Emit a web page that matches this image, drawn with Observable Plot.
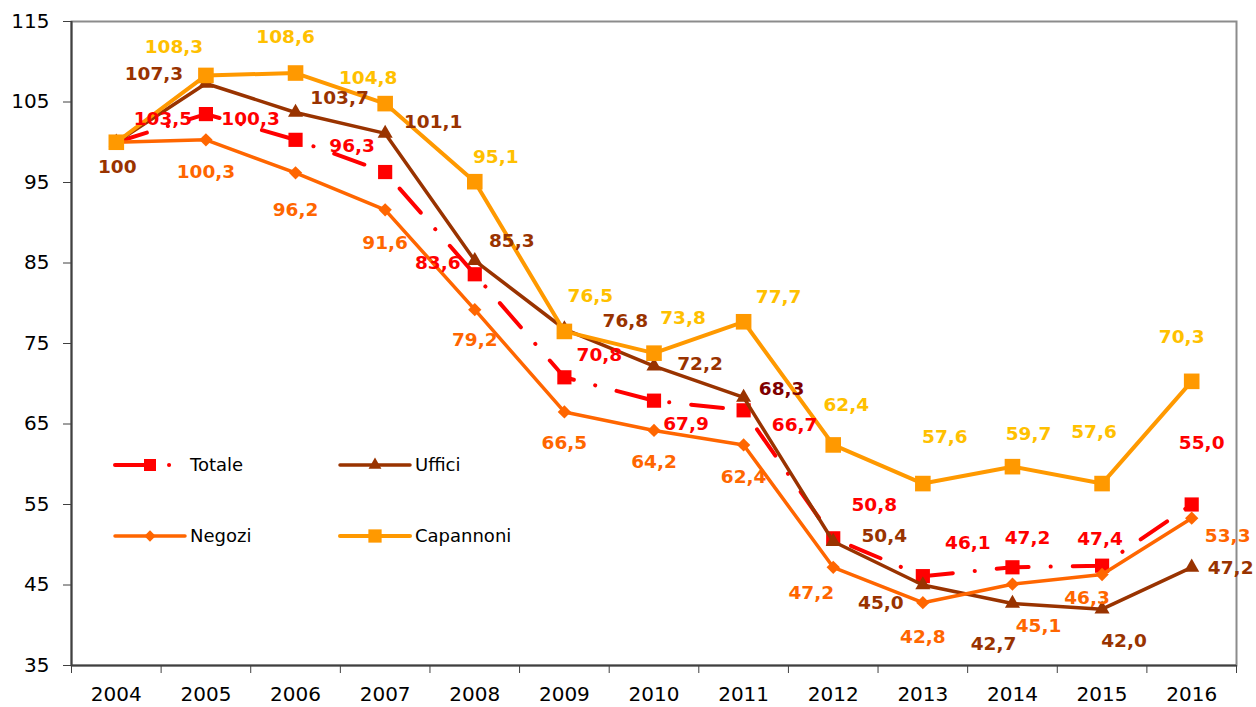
<!DOCTYPE html>
<html><head><meta charset="utf-8">
<script src="https://cdn.jsdelivr.net/npm/d3@7"></script>
<script src="https://cdn.jsdelivr.net/npm/@observablehq/plot@0.6"></script>
<style>
body{margin:0;background:#fff;}
#wrap{position:relative;width:1256px;height:707px;}
#legend{position:absolute;left:0;top:0;pointer-events:none;}
</style></head><body><div id="wrap"></div>
<script>
// ---- data ----
const years = [2004,2005,2006,2007,2008,2009,2010,2011,2012,2013,2014,2015,2016];
const totale    = [100,103.5,100.3,96.3,83.6,70.8,67.9,66.7,50.8,46.1,47.2,47.4,55.0];
const uffici    = [100,107.3,103.7,101.1,85.3,76.8,72.2,68.3,50.4,45.0,42.7,42.0,47.2];
const negozi    = [100,100.3,96.2,91.6,79.2,66.5,64.2,62.4,47.2,42.8,45.1,46.3,53.3];
const capannoni = [100,108.3,108.6,104.8,95.1,76.5,73.8,77.7,62.4,57.6,59.7,57.6,70.3];
const yTicks = [35,45,55,65,75,85,95,105,115];
const seriesNames = ["Totale","Uffici","Negozi","Capannoni"];
const seriesValues = [totale, uffici, negozi, capannoni];

// ---- styles ----
const lineColors  = {Totale:"#FF0000", Uffici:"#993300", Negozi:"#FF6600", Capannoni:"#FF9900"};
const labelColors = {Totale:"#FF0000", Uffici:"#993300", Negozi:"#FF6600", Capannoni:"#FFC000"};
const symbols = {Totale:"square", Uffici:"triangle", Negozi:"diamond2", Capannoni:"square"};
const radii   = {Totale:8, Uffici:5.6, Negozi:6, Capannoni:8.8};
const widths  = {Totale:4, Uffici:3.5, Negozi:3.5, Capannoni:4};
const dashes  = {Totale:"32,22,0.1,22", Uffici:null, Negozi:null, Capannoni:null};
// label offsets (pixels) from each point; null = no label
const labelOffsets = {
  Totale:    [null,[-43,5],[-45,-21],[-33,-26],[-37,-11],[35,-22],[32,23],[51,15],[41,-33],[45,-33],[15,-29],[-2,-27],[10,-61]],
  Uffici:    [[1,25],[-52,-9],[44,-14],[48,-11],[37,-20],[61,-8],[46,-2],[38,-8],[51,-5],[-42,18],[-19,41],[22,32],[39,1]],
  Negozi:    [null,[0,32],[0,37],[0,33],[0,30],[0,31],[0,32],[0,32],[-22,26],[0,34],[26,42],[-15,24],[36,18]],
  Capannoni: [null,[-32,-28],[-10,-36],[-17,-26],[21,-25],[26,-35],[29,-35],[35,-25],[13,-40],[22,-46],[16,-33],[-8,-51],[-10,-44]]
};
const labelColorOverride = {"Uffici-2011":"#800000"};

const fmt = v => v === 100 ? "100" : v.toFixed(1).replace(".", ",");
const font = "DejaVu Sans";

const marks = [];
marks.push(Plot.frame({stroke:"#8c8c8c", strokeWidth:2}));

seriesNames.forEach((name, si) => {
  const rows = years.map((yr, i) => ({year: yr, value: seriesValues[si][i], series: name}));
  marks.push(Plot.line(rows, {x:"year", y:"value", stroke: lineColors[name], strokeWidth: widths[name],
    strokeDasharray: dashes[name] || undefined, strokeLinecap: dashes[name] ? "round" : "butt", strokeLinejoin:"round"}));
  marks.push(Plot.dot(rows, {x:"year", y:"value", symbol: symbols[name], r: radii[name], fill: lineColors[name], stroke:"none"}));
});

seriesNames.forEach((name, si) => {
  years.forEach((yr, i) => {
    const off = labelOffsets[name][i];
    if (!off) return;
    const v = seriesValues[si][i];
    marks.push(Plot.text([{year: yr, value: v}], {x:"year", y:"value", text: d => fmt(d.value),
      dx: off[0], dy: off[1], fill: labelColorOverride[name + "-" + yr] || labelColors[name],
      fontWeight:"bold", fontSize:18.5, fontFamily: font}));
  });
});

const bounds = [...years.map(y => y - 0.5), years[years.length-1] + 0.5];
marks.push(Plot.axisY(yTicks, {label:null, tickSize:8, tickPadding:14, fontSize:20, fontFamily:font, tickFormat: d => String(d), stroke:"#404040", fill:"#000"}));
marks.push(Plot.axisX(bounds, {label:null, tickSize:8, tickFormat: () => "", stroke:"#404040"}));
marks.push(Plot.axisX(years, {label:null, tickSize:0, tickPadding:21, fontSize:20, fontFamily:font, tickFormat: d => String(d), fill:"#000"}));
marks.push(Plot.ruleX([bounds[0]], {stroke:"#404040", strokeWidth:2}));
marks.push(Plot.ruleY([yTicks[0]], {stroke:"#404040", strokeWidth:2}));

const chart = Plot.plot({
  width:1256, height:707,
  marginLeft:71, marginRight:20, marginTop:21, marginBottom:42,
  x:{type:"linear", domain:[bounds[0], bounds[bounds.length-1]], axis:null, label:null},
  y:{domain:[yTicks[0], yTicks[yTicks.length-1]], axis:null, label:null},
  style:{fontFamily:font, background:"#fff", color:"#000", overflow:"visible"},
  marks
});
const wrap = document.getElementById("wrap");
wrap.appendChild(chart);

// ---- legend (inside plot area) ----
const legendItems = [
  {name:"Totale", x:115, y:465},
  {name:"Uffici", x:340, y:465},
  {name:"Negozi", x:115, y:536},
  {name:"Capannoni", x:340, y:536}
];
const lg = d3.create("svg").attr("id","legend").attr("width",1256).attr("height",707);
legendItems.forEach(it => {
  const n = it.name;
  lg.append("line").attr("x1", it.x).attr("x2", it.x + 70).attr("y1", it.y).attr("y2", it.y)
    .attr("stroke", lineColors[n]).attr("stroke-width", widths[n])
    .attr("stroke-dasharray", dashes[n] || null)
    .attr("stroke-linecap", "round");
  const sym = {square: d3.symbolSquare, triangle: d3.symbolTriangle, diamond2: d3.symbolDiamond2}[symbols[n]];
  const r = radii[n] * 0.85;
  lg.append("path").attr("d", d3.symbol(sym, Math.PI * r * r)()).attr("transform", `translate(${it.x + 35},${it.y})`)
    .attr("fill", lineColors[n]);
  lg.append("text").attr("x", it.x + 75).attr("y", it.y).attr("dy","0.35em")
    .attr("font-family", font).attr("font-size", 18).attr("fill","#000").text(n);
});
wrap.appendChild(lg.node());
</script></body></html>
